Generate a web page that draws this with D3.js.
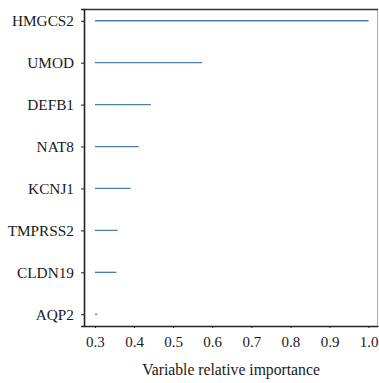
<!DOCTYPE html>
<html>
<head>
<meta charset="utf-8">
<script src="https://cdn.jsdelivr.net/npm/d3@7"></script>
<style>
  html, body { margin: 0; padding: 0; background: #fff; }
  svg { display: block; }
</style>
</head>
<body>
<svg id="chart" width="379" height="383" font-family="Liberation Serif"></svg>
<script>
// Genes, ordered from most to least important
const genes = ["HMGCS2", "UMOD", "DEFB1", "NAT8", "KCNJ1", "TMPRSS2", "CLDN19", "AQP2"];
// Relative importance of each gene
const importance = [1.0, 0.574, 0.443, 0.412, 0.391, 0.358, 0.355, 0.306];
// Value the lines start from
const baseline = 0.3;
// X axis ticks
const xTicks = [0.3, 0.4, 0.5, 0.6, 0.7, 0.8, 0.9, 1.0];
const xTitle = "Variable relative importance";

const FONT = '"Liberation Serif"';
const svg = d3.select("#chart");
const plot = { left: 84, right: 378, top: 9, bottom: 326 };

const x = d3.scaleLinear().domain([0.272, 1.024]).range([plot.left, plot.right]);
const y = d3.scalePoint().domain(genes).range([plot.top, plot.bottom]).padding(0.28);

// Frame: light right edge, dark top edge
svg.append("line")
  .attr("x1", plot.right - 0.5).attr("x2", plot.right - 0.5)
  .attr("y1", plot.top).attr("y2", plot.bottom)
  .attr("stroke", "#b0b0b0").attr("stroke-width", 1);
svg.append("line")
  .attr("x1", plot.left).attr("x2", plot.right)
  .attr("y1", plot.top + 0.5).attr("y2", plot.top + 0.5)
  .attr("stroke", "#333").attr("stroke-width", 1.5);

// Importance lines
svg.append("g").selectAll("line")
  .data(genes)
  .join("line")
  .attr("x1", x(baseline))
  .attr("x2", (d, i) => x(importance[i]))
  .attr("y1", d => y(d))
  .attr("y2", d => y(d))
  .attr("stroke", "#4d7cae")
  .attr("stroke-width", 1.3);

// Y axis
const yAxis = svg.append("g")
  .attr("transform", `translate(${plot.left},0)`)
  .call(d3.axisLeft(y).tickSize(3).tickPadding(7))
  .attr("font-family", null)
  .attr("font-size", null);
yAxis.select(".domain").attr("stroke", "#222").attr("stroke-width", 1.6);
yAxis.selectAll(".tick line").attr("stroke", "#222");
yAxis.selectAll("text")
  .style("font-family", FONT).style("font-size", "15.3px").attr("fill", "#1a1a1a");

// X axis
const xAxis = svg.append("g")
  .attr("transform", `translate(0,${plot.bottom})`)
  .call(d3.axisBottom(x).tickValues(xTicks).tickFormat(d3.format(".1f")).tickSize(2).tickPadding(8).tickSizeOuter(0))
  .attr("font-family", null)
  .attr("font-size", null);
xAxis.select(".domain").attr("stroke", "#222").attr("stroke-width", 1.6);
xAxis.selectAll(".tick line").attr("stroke", "#222");
xAxis.selectAll("text")
  .style("font-family", FONT).style("font-size", "15px").attr("fill", "#1a1a1a");

// Axis title
svg.append("text")
  .attr("x", 231)
  .attr("y", 375)
  .attr("text-anchor", "middle")
  .attr("fill", "#1a1a1a")
  .style("font-family", FONT)
  .style("font-size", "15.7px")
  .text(xTitle);
</script>
</body>
</html>
